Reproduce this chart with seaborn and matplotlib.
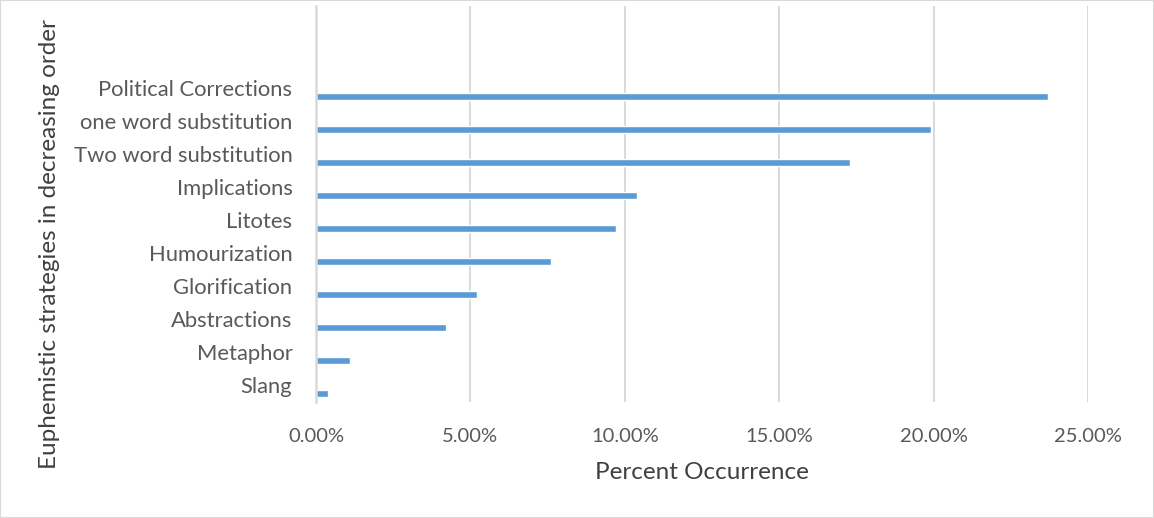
import numpy as np
import pandas as pd
import seaborn as sns
import matplotlib.pyplot as plt
from matplotlib.patches import Rectangle
from matplotlib.ticker import FuncFormatter

# Euphemistic strategies, listed from most to least frequent
strategies = [
    "Political Corrections",
    "one word substitution",
    "Two word substitution",
    "Implications",
    "Litotes",
    "Humourization",
    "Glorification",
    "Abstractions",
    "Metaphor",
    "Slang",
]
percent = [23.7, 19.9, 17.3, 10.4, 9.7, 7.6, 5.2, 4.2, 1.1, 0.4]
x_ticks = [0, 5, 10, 15, 20, 25]

BAR_BLUE = "#5B9BD5"
GRID_GREY = "#D9D9D9"
TEXT_GREY = "#595959"

sns.set_theme(style="white")
plt.rcParams["font.family"] = ["Lato", "DejaVu Sans"]

# two empty category slots sit above the first strategy
n_blank = 2
slot_pos = np.arange(n_blank + len(strategies))
cat_pos = slot_pos[n_blank:]
bar_offset = 0.25
df = pd.DataFrame({"pos": cat_pos + bar_offset, "pct": percent})

fig = plt.figure(figsize=(11.54, 5.18), dpi=100)
ax = fig.add_axes([316 / 1154, 1 - 401.5 / 518, 772 / 1154, 396 / 518])

sns.barplot(data=df, x="pct", y="pos", orient="h", native_scale=True,
            width=0.21, color=BAR_BLUE, saturation=1, ax=ax)

ax.set_xlim(0, 25)
ax.set_ylim(slot_pos[-1] + 0.5, slot_pos[0] - 0.5)
ax.set_xticks(x_ticks)
ax.xaxis.set_major_formatter(FuncFormatter(lambda v, _: f"{v:.2f}%"))
ax.set_yticks(cat_pos)
ax.set_yticklabels(strategies)

ax.grid(axis="x", color=GRID_GREY, linewidth=1.4)
ax.grid(axis="y", visible=False)
ax.set_axisbelow(True)
for side in ["top", "right", "bottom"]:
    ax.spines[side].set_visible(False)
ax.spines["left"].set_color(GRID_GREY)
ax.spines["left"].set_linewidth(1.8)

ax.tick_params(axis="y", length=0, pad=17, labelsize=15.8, labelcolor=TEXT_GREY)
ax.tick_params(axis="x", length=0, pad=19, labelsize=14.5, labelcolor=TEXT_GREY)

ax.set_xlabel("Percent Occurrence", fontsize=17.5, color="#404040")
ax.xaxis.set_label_coords(0.5, -0.152)
ax.set_ylabel("Euphemistic strategies in decreasing order", fontsize=17.5, color="#404040")
ax.yaxis.set_label_coords(-0.331, 0.398)

fig.patches.append(Rectangle((0, 0), 1, 1, transform=fig.transFigure, fill=False,
                             edgecolor=GRID_GREY, linewidth=1.5))

fig.savefig("out.png", dpi=100)
